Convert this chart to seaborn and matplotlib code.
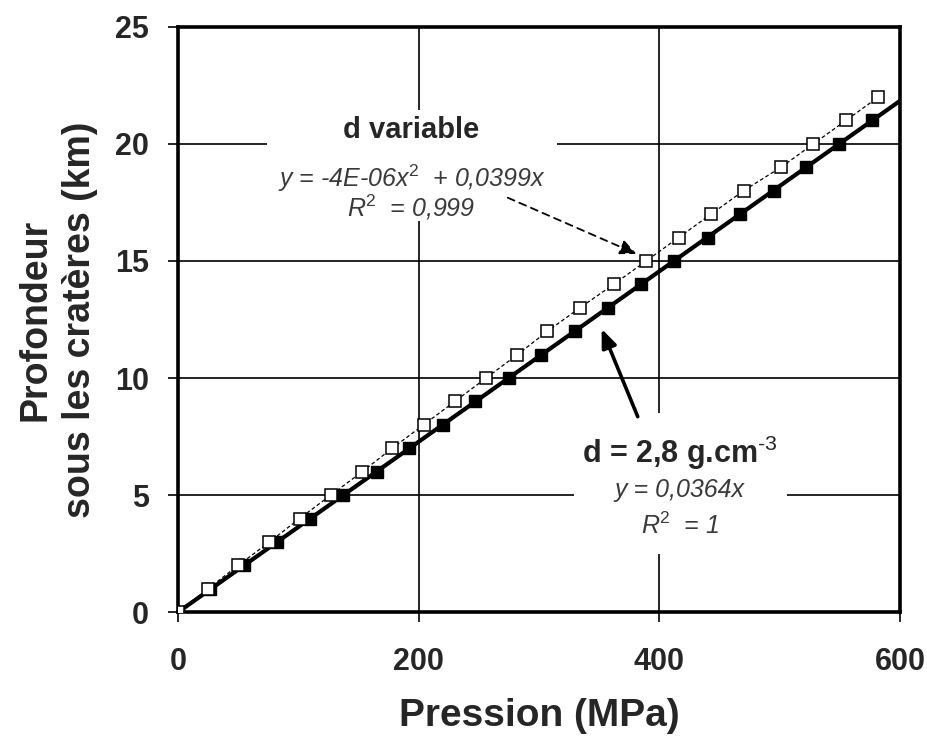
import numpy as np
import pandas as pd
import matplotlib
matplotlib.use("Agg")
import matplotlib.pyplot as plt
import seaborn as sns
from matplotlib.patches import Rectangle

# Données
prof_var = list(range(0, 23))  # km
pres_var = [0, 25, 50, 76, 101, 127, 153, 178, 204, 230, 256, 282,
            307, 334, 362, 389, 416, 443, 470, 501, 528, 555, 582]  # MPa

prof_cst = list(range(0, 22))  # km
pres_cst = [0, 27, 55, 82, 110, 137, 165, 192, 220, 247, 275, 302,
            330, 357, 385, 412, 440, 467, 495, 522, 549, 577]  # MPa

# droite de tendance y = 0,0364x
trend_x = [0, 600]
trend_y = [0, 21.84]

x_ticks = [0, 200, 400, 600]
y_ticks = [0, 5, 10, 15, 20, 25]

df_var = pd.DataFrame({"Pression": pres_var, "Profondeur": prof_var})
df_cst = pd.DataFrame({"Pression": pres_cst, "Profondeur": prof_cst})
df_trend = pd.DataFrame({"Pression": trend_x, "Profondeur": trend_y})

sns.set_style("white")
plt.rcParams['font.family'] = ['Liberation Sans', 'DejaVu Sans']
plt.rcParams['mathtext.fontset'] = 'custom'
plt.rcParams['mathtext.rm'] = 'Liberation Sans'
plt.rcParams['mathtext.it'] = 'Liberation Sans:italic'
plt.rcParams['mathtext.bf'] = 'Liberation Sans:bold'

fig = plt.figure(figsize=(9.27, 7.43), dpi=100)
ax = fig.add_axes([0.192, 0.176, 0.779, 0.788])

# grille
for v in x_ticks[1:-1]:
    ax.axvline(v, color='black', lw=1.2, zorder=1)
for v in y_ticks[1:-1]:
    ax.axhline(v, color='black', lw=1.2, zorder=1)

# fonds blancs des étiquettes
ax.add_patch(Rectangle((74, 16.7), 241, 4.75, facecolor='white', edgecolor='none', zorder=2))
ax.add_patch(Rectangle((329, 2.5), 177, 6.0, facecolor='white', edgecolor='none', zorder=2))

# d variable : trait fin tireté + carrés blancs
sns.lineplot(data=df_var, x="Pression", y="Profondeur", ax=ax, color='black',
             lw=0.9, linestyle=(0, (3, 2)), zorder=3, sort=False)
# d constant : droite épaisse + carrés noirs
sns.lineplot(data=df_trend, x="Pression", y="Profondeur", ax=ax, color='black',
             lw=3, zorder=3)
ax.plot(df_cst["Pression"], df_cst["Profondeur"], ls='none', marker='s', ms=8,
        mfc='black', mec='black', mew=1, zorder=4)
ax.plot(df_var["Pression"], df_var["Profondeur"], ls='none', marker='s', ms=8,
        mfc='white', mec='black', mew=1.1, zorder=5)

ax.set_xlim(0, 600)
ax.set_ylim(0, 25)
ax.set_xticks(x_ticks)
ax.set_yticks(y_ticks)
ax.tick_params(axis='both', direction='out', length=7, width=1.2, color='black',
               labelsize=22, bottom=True, left=True)
ax.tick_params(axis='x', pad=18)
ax.tick_params(axis='y', pad=14)
for lab in ax.get_xticklabels() + ax.get_yticklabels():
    lab.set_fontweight('bold')
for s in ax.spines.values():
    s.set_visible(True)
    s.set_color('black')
    s.set_linewidth(2.6)

ax.set_xlabel("Pression (MPa)", fontsize=28, fontweight='bold', labelpad=15)
ax.set_ylabel("Profondeur\nsous les cratères (km)", fontsize=27, fontweight='bold',
              labelpad=12, linespacing=1.3)

# annotations
eq_col = '#3a3a3a'
ax.text(194, 20.6, "d variable", ha='center', va='center', fontsize=21,
        fontweight='bold', zorder=6)
ax.text(194, 18.55, "y = -4E-06x$^{2}$  + 0,0399x", ha='center', va='center',
        fontsize=18, style='italic', color=eq_col, zorder=6)
ax.text(194, 17.3, "R$^{2}$  = 0,999", ha='center', va='center',
        fontsize=18, style='italic', color=eq_col, zorder=6)

ax.text(417, 6.8, r"d = 2,8 g.cm$^{\text{-3}}$", ha='center', va='center', fontsize=22,
        fontweight='bold', zorder=6)
ax.text(417, 5.2, "y = 0,0364x", ha='center', va='center',
        fontsize=18, style='italic', color=eq_col, zorder=6)
ax.text(417, 3.7, "R$^{2}$  = 1", ha='center', va='center',
        fontsize=18, style='italic', color=eq_col, zorder=6)

ax.annotate("", xy=(381, 15.3), xytext=(274, 17.7),
            arrowprops=dict(arrowstyle='-|>,head_length=1.0,head_width=0.45',
                            linestyle=(0, (4, 3)), lw=1.3, color='black',
                            shrinkA=0, shrinkB=0), zorder=6)
ax.annotate("", xy=(352, 12.1), xytext=(382, 8.35),
            arrowprops=dict(arrowstyle='-|>,head_length=1.1,head_width=0.45',
                            lw=2.6, color='black', shrinkA=0, shrinkB=0), zorder=6)

fig.savefig("out.png", dpi=100)
